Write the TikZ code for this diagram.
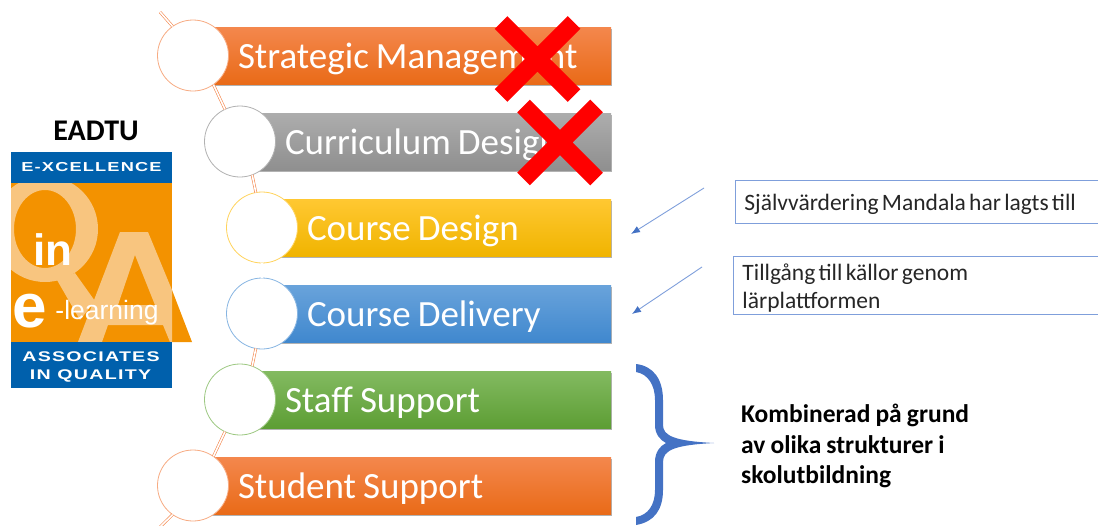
\documentclass[tikz,border=0pt]{standalone}
\usepackage{fontspec}
\setmainfont{Carlito}
\newfontfamily\logofont{Liberation Sans}
\newfontfamily\bandfont[FakeStretch=1.4,LetterSpace=9]{Liberation Sans}
\usepackage{tikz}
\usetikzlibrary{arrows}
\usetikzlibrary{arrows.meta}
\usetikzlibrary{positioning}
\usetikzlibrary{shadows}
\usetikzlibrary{shapes.misc}
\newcommand{\tightwords}[1]{\spaceskip=#1em\relax}
\definecolor{logoblue}{HTML}{0060AC}
\definecolor{logoorange}{HTML}{F39200}
\definecolor{logolight}{HTML}{F8C57F}
\definecolor{framecol}{HTML}{7F9FDB}
\definecolor{bracecol}{HTML}{4472C4}
\definecolor{orangetop}{HTML}{F4874D}
\definecolor{orangeend}{HTML}{E96B18}
\definecolor{greytop}{HTML}{ADADAD}
\definecolor{greyend}{HTML}{8F8F8F}
\definecolor{yellowtop}{HTML}{FFC832}
\definecolor{yellowend}{HTML}{F0B400}
\definecolor{bluetop}{HTML}{69A3DB}
\definecolor{blueend}{HTML}{4088CE}
\definecolor{greentop}{HTML}{83BA61}
\definecolor{greenend}{HTML}{5D9E34}
\tikzstyle{bar} = [rectangle, text=white, font=\fontsize{37}{39}\selectfont, align=left, minimum height=57pt, inner sep=0pt, outer sep=0pt, execute at begin node={\tightwords{0.19}\hspace*{45pt}}, execute at end node={\vspace*{-6pt}}, drop shadow={shadow xshift=1pt, shadow yshift=-2pt, fill=black, opacity=0.3}]
\tikzstyle{orangebar} = [bar, top color=orangetop, bottom color=orangeend]
\tikzstyle{ring} = [circle, draw, fill=white, line width=0.8pt, minimum size=71pt, inner sep=0pt, outer sep=0pt]
\tikzstyle{spine} = [draw=orangetop, line width=0.6pt, double=white, double distance=1.6pt]
\tikzstyle{crossmark} = [rectangle, cross out, draw=red, line width=18pt, minimum size=73pt, inner sep=0pt, outer sep=0pt]
\tikzstyle{note} = [rectangle, draw=framecol, line width=0.9pt, font=\fontsize{23.5}{28}\selectfont, text=black!85, text width=355pt, inner sep=0pt, inner xsep=9pt, align=left, anchor=north west, execute at begin node={\tightwords{0.14}}, execute at end node={\vspace*{-5pt}}]
\tikzstyle{pointer} = [draw=framecol, line width=0.9pt, -{Latex[length=9pt,width=7pt,color=bracecol]}]
\tikzstyle{bandtext} = [text=white, font=\bandfont\bfseries\fontsize{14}{15}\selectfont, inner sep=0pt]
\begin{document}
\begin{tikzpicture}[x=1pt, y=-1pt, node distance=86pt]
            \useasboundingbox (0,0) rectangle (1098,525);
            % Logo
            \node [font=\bfseries\fontsize{30}{32}\selectfont, inner sep=0pt] (title) at (96,131) {EADTU};
            \fill [logoorange] (11,183) rectangle (172,342);
            \fill [logoorange] (172,290) -- (192,342) -- (172,342) -- cycle;
            \begin{scope}
              \clip (11,183) rectangle (172,342);
              \fill [logolight, even odd rule] (45,229) ellipse [x radius=53, y radius=53] (45,229) ellipse [x radius=31, y radius=39];
              \fill [logolight] (57,280) -- (75,273) -- (95,301) -- (80,320) -- cycle;
              \fill [logolight, even odd rule] (78,342) -- (120,232) -- (148,232) -- (172,290) -- (172,342) -- (170,342) -- (163,325) -- (108,325) -- (102,342) -- cycle (135,255) -- (118,305) -- (155,305) -- cycle;
            \end{scope}
            \fill [logoblue] (11,152) rectangle (172,183);
            \fill [logoblue] (11,342) rectangle (172,388);
            \node [bandtext, font=\bandfont\bfseries\fontsize{13}{15}\selectfont] (band1) at (91.5,167) {E-XCELLENCE};
            \node [bandtext] (band2) at (91,357) {ASSOCIATES};
            \node [bandtext] (band3) at (90.5,376) {IN QUALITY};
            \node [text=white, font=\logofont\bfseries\fontsize{44}{44}\selectfont, inner sep=0pt] (logoin) at (53,250) {in};
            \node [text=white, font=\logofont\bfseries\fontsize{62}{62}\selectfont, inner sep=0pt] (logoe) at (30,311) {e};
            \node [text=white, font=\logofont\fontsize{26.5}{27}\selectfont, inner sep=0pt] (logolearn) at (107,313) {-learning};
            % Place nodes
            \node [orangebar, minimum width=418pt, text width=418pt] (bar1) at (402,55.5) {Strategic Management};
            \node [bar, below of=bar1, xshift=23.5pt, minimum width=371pt, text width=371pt, top color=greytop, bottom color=greyend] (bar2) {Curriculum Design};
            \node [bar, below of=bar2, xshift=11pt, minimum width=349pt, text width=349pt, top color=yellowtop, bottom color=yellowend] (bar3) {Course Design};
            \node [bar, below of=bar3, minimum width=349pt, text width=349pt, top color=bluetop, bottom color=blueend] (bar4) {Course Delivery};
            \node [bar, below of=bar4, xshift=-11pt, minimum width=371pt, text width=371pt, top color=greentop, bottom color=greenend] (bar5) {Staff Support};
            \node [orangebar, below of=bar5, xshift=-23.5pt, minimum width=418pt, text width=418pt] (bar6) {Student Support};
            \node [ring, draw=orangetop!70, left of=bar1, node distance=209pt] (ring1) {};
            \node [ring, draw=greyend!70, left of=bar2, node distance=185.5pt] (ring2) {};
            \node [ring, draw=yellowtop!80, left of=bar3, node distance=174.5pt] (ring3) {};
            \node [ring, draw=bluetop!80, left of=bar4, node distance=174.5pt] (ring4) {};
            \node [ring, draw=greentop!80, left of=bar5, node distance=185.5pt] (ring5) {};
            \node [ring, draw=orangetop!70, left of=bar6, node distance=209pt] (ring6) {};
            \node [crossmark] (cross1) at (537.5,59) {};
            \node [crossmark] (cross2) at (560,142.5) {};
            \node [note, minimum height=43pt] (note1) at (735,180) {Självvärdering Mandala har lagts till};
            \node [note, minimum height=58pt] (note2) at (733,256) {Tillgång till källor genom\\lärplattformen};
            \node [font=\bfseries\fontsize{25.5}{30.5}\selectfont, align=left, inner sep=0pt, anchor=west, execute at begin node={\tightwords{0.2}}] (summary) at (741,446) {Kombinerad på grund\\av olika strukturer i\\skolutbildning};
            \coordinate (spinetop) at (160,12);
            \coordinate (spineend) at (160,527);
            \coordinate (from1) at (704,188);
            \coordinate (to1) at (631,234);
            \coordinate (from2) at (702,267);
            \coordinate (to2) at (632,314);
            % Draw edges
            \path [spine] (spinetop) -- (ring1.125);
            \path [spine] (ring1.-55) -- (ring2.115);
            \path [spine] (ring2.-70) -- (ring3.100);
            \path [spine] (ring3.-90) -- (ring4.90);
            \path [spine] (ring4.-100) -- (ring5.70);
            \path [spine] (ring5.-115) -- (ring6.55);
            \path [spine] (ring6.-125) -- (spineend);
            \path [pointer] (from1) -- (to1);
            \path [pointer] (from2) -- (to2);
            % Brace
            \fill [bracecol] (636,364) .. controls (654,366) and (663,380) .. (663,400) -- (663,425) .. controls (663,436) and (675,441) .. (714,443) .. controls (675,445) and (663,450) .. (663,462) -- (663,490) .. controls (663,510) and (654,522) .. (636,525) -- (636,517) .. controls (648,515) and (655,505) .. (655,490) -- (655,462) .. controls (655,452) and (660,446) .. (666,443) .. controls (660,440) and (655,434) .. (655,425) -- (655,400) .. controls (655,385) and (648,374) .. (636,372) -- cycle;
          \end{tikzpicture}
\end{document}
